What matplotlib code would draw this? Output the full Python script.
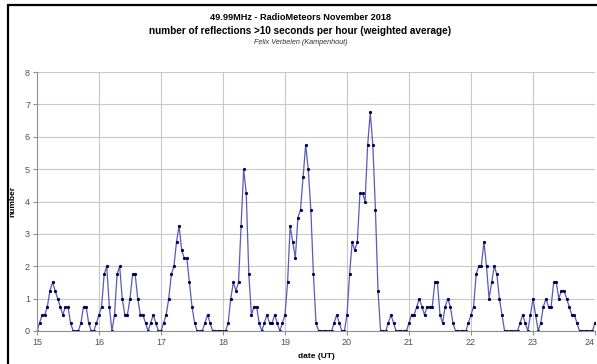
import numpy as np
import matplotlib
matplotlib.use("Agg")
import matplotlib.pyplot as plt
from matplotlib.patches import Rectangle

plt.rcParams['font.family'] = ['Liberation Sans', 'DejaVu Sans']

# Hourly blocks of 24 samples (2.5-minute steps), 15 UT .. 24 UT
h15 = [0, 0.25, 0.5, 0.5, 0.75, 1.25, 1.5, 1.25, 1.0, 0.75, 0.5, 0.75,
       0.75, 0.25, 0, 0, 0, 0.25, 0.75, 0.75, 0.25, 0, 0, 0.25]
h16 = [0.5, 0.75, 1.75, 2.0, 0.75, 0, 0.5, 1.75, 2.0, 1.0, 0.5, 0.5,
       1.0, 1.75, 1.75, 1.0, 0.5, 0.5, 0.25, 0, 0.25, 0.5, 0.25, 0]
h17 = [0, 0.25, 0.5, 1.0, 1.75, 2.0, 2.75, 3.25, 2.5, 2.25, 2.25, 1.5,
       0.75, 0.25, 0, 0, 0, 0.25, 0.5, 0.25, 0, 0, 0, 0]
h18 = [0, 0, 0.25, 1.0, 1.5, 1.25, 1.5, 3.25, 5.0, 4.25, 1.75, 0.5,
       0.75, 0.75, 0.25, 0, 0.25, 0.5, 0.25, 0.25, 0.5, 0.25, 0, 0.25]
h19 = [0.5, 1.5, 3.25, 2.75, 2.25, 3.5, 3.75, 4.75, 5.75, 5.0, 3.75, 1.75,
       0.25, 0, 0, 0, 0, 0, 0, 0.25, 0.5, 0.25, 0, 0]
h20 = [0.5, 1.75, 2.75, 2.5, 2.75, 4.25, 4.25, 4.0, 5.75, 6.75, 5.75, 3.75,
       1.25, 0, 0, 0, 0.25, 0.5, 0.25, 0, 0, 0, 0, 0]
h21 = [0.25, 0.5, 0.5, 0.75, 1.0, 0.75, 0.5, 0.75, 0.75, 0.75, 1.5, 1.5,
       0.5, 0.25, 0.75, 1.0, 0.75, 0.25, 0, 0, 0, 0, 0, 0.25]
h22 = [0.5, 0.75, 1.75, 2.0, 2.0, 2.75, 2.0, 1.0, 1.5, 2.0, 1.75, 1.0,
       0.5, 0, 0, 0, 0, 0, 0, 0.25, 0.5, 0.25, 0, 0.5]
h23 = [1.0, 0.5, 0, 0.25, 0.75, 1.0, 0.75, 0.75, 1.5, 1.5, 1.0, 1.25,
       1.25, 1.0, 0.75, 0.5, 0.5, 0.25, 0, 0, 0, 0, 0, 0]
h24 = [0.25]

counts = h15 + h16 + h17 + h18 + h19 + h20 + h21 + h22 + h23 + h24
hours = 15 + np.arange(len(counts)) / 24.0

x_ticks = list(range(15, 25))
y_ticks = list(range(0, 9))

fig = plt.figure(figsize=(5.97, 3.64), dpi=100)
fig.patch.set_facecolor('white')

# chart-area frame
fig.patches.append(Rectangle((8 / 597, -0.05), 1.2, 1 - 5 / 364 + 0.05,
                             transform=fig.transFigure, fill=False,
                             edgecolor='black', linewidth=1.6))

ax = fig.add_axes([37 / 597, 33 / 364, 558 / 597, 259 / 364])
ax.plot(hours, counts, color='#5a5ab8', linewidth=0.9,
        marker='o', markersize=1.3, markerfacecolor='#000050',
        markeredgecolor='#000050')

ax.set_xlim(15, 24)
ax.set_ylim(0, 8)
ax.set_xticks(x_ticks)
ax.set_yticks(y_ticks)
ax.grid(True, color='#c8c8c8', linewidth=0.8)
ax.set_axisbelow(True)
for s in ['top', 'right']:
    ax.spines[s].set_visible(False)
ax.spines['left'].set_color('#909090')
ax.spines['bottom'].set_color('#909090')
ax.tick_params(axis='both', labelsize=6.5, colors='#909090', length=3,
               labelcolor='#505050', pad=2)
ax.get_xticklabels()[-1].set_horizontalalignment('right')

ax.set_xlabel('date (UT)', fontsize=6, fontweight='bold', labelpad=4)
ax.set_ylabel('number', fontsize=6, fontweight='bold', labelpad=6)

fig.text(0.503, 1 - 17 / 364, '49.99MHz - RadioMeteors November 2018',
         ha='center', va='center', fontsize=6.6, fontweight='bold')
fig.text(0.503, 1 - 31 / 364,
         'number of reflections >10 seconds per hour (weighted average)',
         ha='center', va='center', fontsize=7.2, fontweight='bold')
fig.text(0.503, 1 - 43 / 364, 'Felix Verbelen (Kampenhout)',
         ha='center', va='center', fontsize=5.2, style='italic',
         color='#303030')

fig.savefig('out.png', dpi=100, facecolor='white')
